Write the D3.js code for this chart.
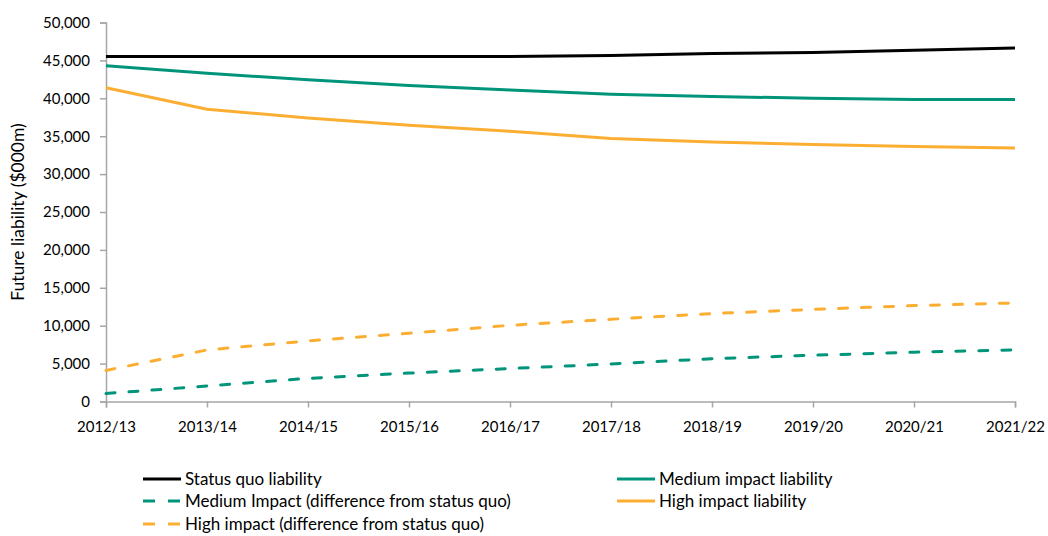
<!DOCTYPE html>
<html>
<head>
<meta charset="utf-8">
<script src="https://cdn.jsdelivr.net/npm/d3@7"></script>
<style>
  body { margin: 0; background: #fff; }
  text { font-family: Lato, "Open Sans", sans-serif; fill: #000; }
</style>
</head>
<body>
<div class="chart"></div>
<script>
const years = ['2012/13', '2013/14', '2014/15', '2015/16', '2016/17',
  '2017/18', '2018/19', '2019/20', '2020/21', '2021/22'];

const statusQuo = [45500, 45500, 45500, 45500, 45500, 45650, 45900, 46050, 46350, 46650];
const mediumLiability = [44300, 43300, 42450, 41700, 41100, 40550, 40250, 40000, 39850, 39850];
const highLiability = [41400, 38550, 37400, 36450, 35650, 34700, 34250, 33900, 33650, 33450];
const mediumDiff = [1050, 2050, 3050, 3750, 4350, 4950, 5650, 6100, 6500, 6800];
const highDiff = [4100, 6800, 8000, 9000, 10050, 10850, 11600, 12150, 12650, 13000];

const yTicks = [0, 5000, 10000, 15000, 20000, 25000, 30000, 35000, 40000, 45000, 50000];

const series = [
  { name: 'Status quo liability', values: statusQuo, color: '#000000', dashed: false },
  { name: 'Medium impact liability', values: mediumLiability, color: '#00957A', dashed: false },
  { name: 'Medium Impact (difference from status quo)', values: mediumDiff, color: '#00957A', dashed: true },
  { name: 'High impact liability', values: highLiability, color: '#FBAE32', dashed: false },
  { name: 'High impact (difference from status quo)', values: highDiff, color: '#FBAE32', dashed: true },
];

const width = 1048;
const height = 536;
const margin = { top: 22.5, right: 33, bottom: 134.5, left: 106 };

const svg = d3.select('.chart')
  .append('svg')
  .attr('width', width)
  .attr('height', height);

const x = d3.scalePoint()
  .domain(years)
  .range([margin.left, width - margin.right]);

const y = d3.scaleLinear()
  .domain([0, 50000])
  .range([height - margin.bottom, margin.top]);

/* axes */

const yAxis = d3.axisLeft(y)
  .tickValues(yTicks)
  .tickFormat(d3.format(','))
  .tickSize(6)
  .tickPadding(10);

const xAxis = d3.axisBottom(x)
  .tickSize(6)
  .tickPadding(14);

const yAxisGroup = svg.append('g')
  .attr('transform', `translate(${margin.left},0)`)
  .call(yAxis);

const xAxisGroup = svg.append('g')
  .attr('transform', `translate(0,${height - margin.bottom})`)
  .call(xAxis);

[yAxisGroup, xAxisGroup].forEach((g) => {
  g.select('.domain').attr('stroke', '#A6A6A6').attr('stroke-width', 1.5);
  g.selectAll('.tick line').attr('stroke', '#A6A6A6').attr('stroke-width', 1.5);
  g.selectAll('.tick text').style('font-size', '15px').attr('fill', '#000');
});

svg.append('text')
  .attr('transform', `translate(24,${(margin.top + height - margin.bottom) / 2}) rotate(-90)`)
  .attr('text-anchor', 'middle')
  .style('font-size', '17.5px')
  .text('Future liability ($000m)');

/* lines */

const line = d3.line()
  .x((d, i) => x(years[i]))
  .y(d => y(d));

// dashed ones first so the solid lines sit on top
const drawOrder = [2, 4, 0, 1, 3];
drawOrder.forEach((idx) => {
  const s = series[idx];
  svg.append('path')
    .datum(s.values)
    .attr('d', line)
    .attr('fill', 'none')
    .attr('stroke', s.color)
    .attr('stroke-width', 3)
    .attr('stroke-linecap', s.dashed ? 'round' : 'butt')
    .attr('stroke-dasharray', s.dashed ? '9,14' : null);
});

/* legend */

const legendPos = [
  { x: 143, y: 479 },
  { x: 617, y: 479 },
  { x: 143, y: 501 },
  { x: 617, y: 501 },
  { x: 143, y: 524 },
];

const legend = svg.append('g').selectAll('g')
  .data(series)
  .enter().append('g')
  .attr('transform', (d, i) => `translate(${legendPos[i].x},${legendPos[i].y})`);

legend.append('line')
  .attr('x1', 0)
  .attr('x2', 38)
  .attr('stroke', d => d.color)
  .attr('stroke-width', 3)
  .attr('stroke-dasharray', d => (d.dashed ? '12,13' : null));

legend.append('text')
  .attr('x', 42)
  .attr('dy', '0.35em')
  .style('font-size', '17px')
  .text(d => d.name);
</script>
</body>
</html>
